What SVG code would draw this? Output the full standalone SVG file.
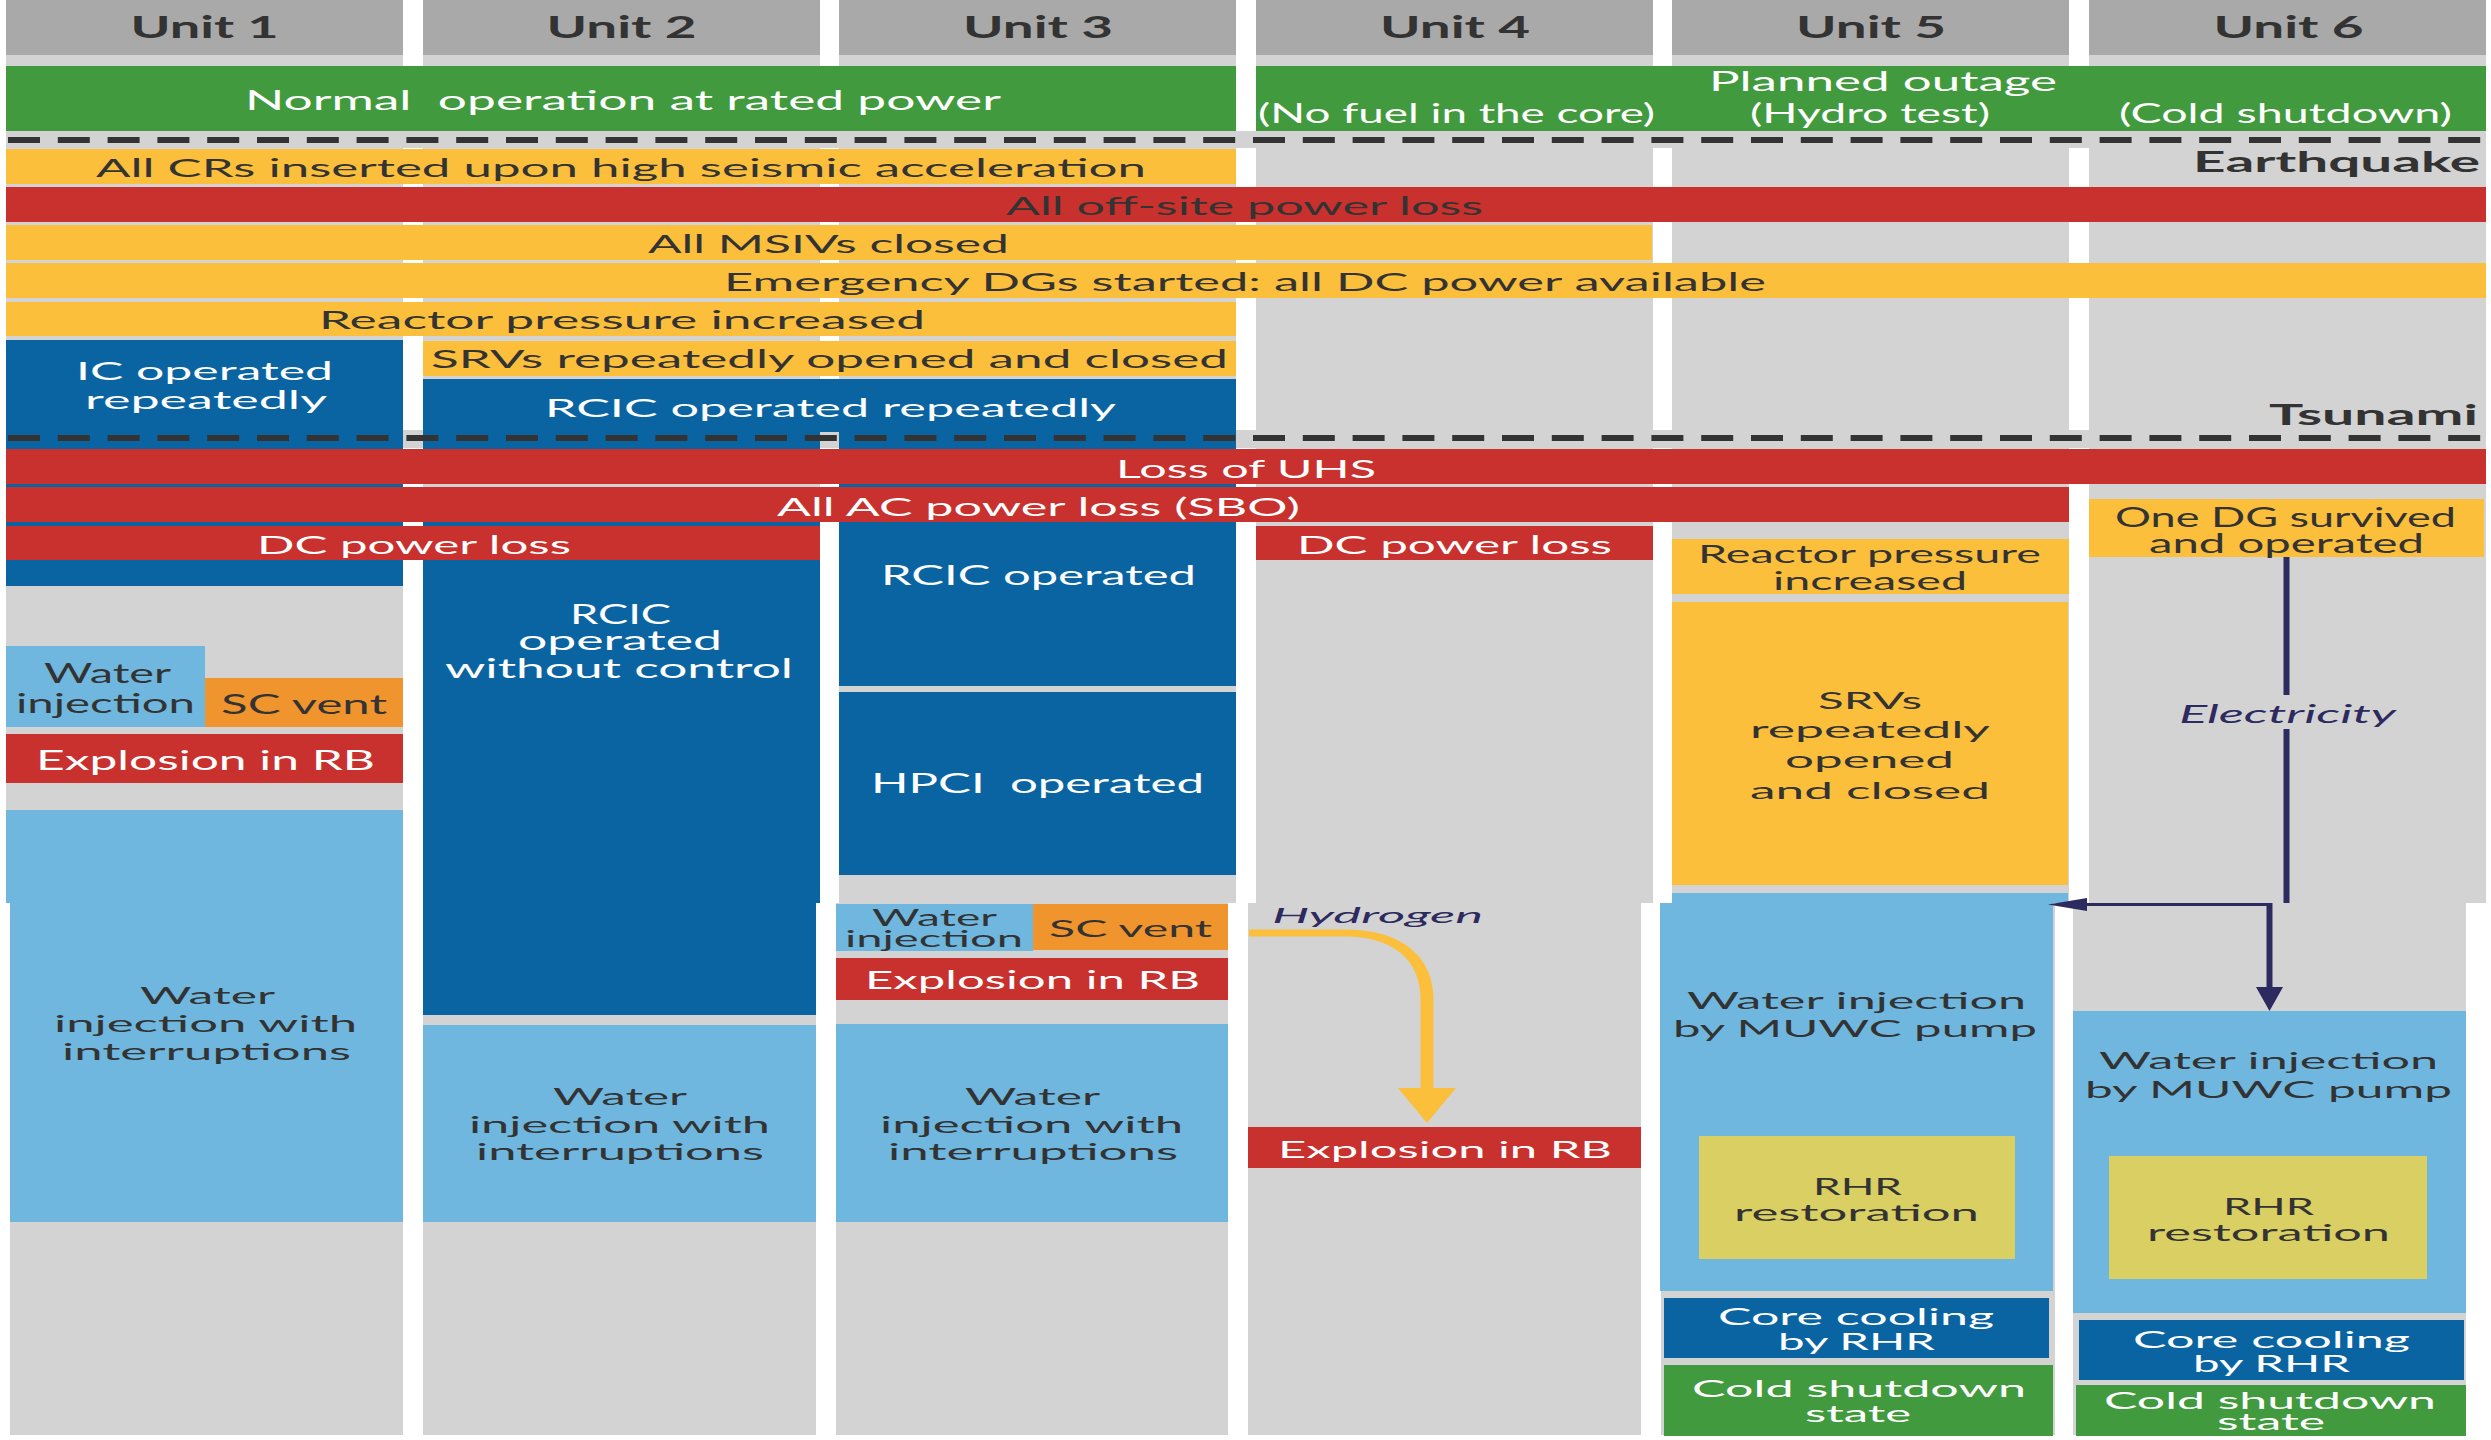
<svg xmlns="http://www.w3.org/2000/svg" width="2491" height="1440" viewBox="0 0 2491 1440">
<style>
  .hd{fill:#a9a9a9}
  .bg{fill:#d3d3d3}
  .gr{fill:#429a3e}
  .ye{fill:#fbbf3c}
  .rd{fill:#c8312d}
  .bl{fill:#0b64a2}
  .lb{fill:#6fb7de}
  .or{fill:#f0942e}
  .ol{fill:#dacf63}
  text{font-family:Lato,'Open Sans','Liberation Sans',sans-serif;text-anchor:middle}
  .w{fill:#ffffff}
  .d{fill:#333333}
  .n{fill:#2c2a5e;font-style:italic}
  .b{font-weight:bold}
  .s31{font-size:31px}.s28{font-size:28px}.s27{font-size:27px}.s26{font-size:26px}
  .s25{font-size:25px}.s24{font-size:24px}.s23{font-size:23px}.s22{font-size:22px}
  .dash{stroke:#333333;stroke-width:6;stroke-dasharray:32 17.8;fill:none}
  .nav{stroke:#2c2a5e;fill:none}
</style>
<defs>
  <marker id="navyHead" markerWidth="1" markerHeight="1"/>
</defs>
<rect width="2491" height="1440" fill="#ffffff"/>

<!-- column backgrounds: upper half and the slightly shifted lower half -->
<g id="columns">
  <rect class="bg" x="6" y="0" width="397" height="903"/>
  <rect class="bg" x="423" y="0" width="397" height="903"/>
  <rect class="bg" x="839" y="0" width="397" height="903"/>
  <rect class="bg" x="1256" y="0" width="397" height="903"/>
  <rect class="bg" x="1672" y="0" width="397" height="903"/>
  <rect class="bg" x="2089" y="0" width="397" height="903"/>
  <rect class="bg" x="10" y="903" width="393" height="532"/>
  <rect class="bg" x="423" y="903" width="393" height="532"/>
  <rect class="bg" x="836" y="903" width="392" height="532"/>
  <rect class="bg" x="1248" y="903" width="393" height="532"/>
  <rect class="bg" x="1661" y="903" width="394" height="532"/>
  <rect class="bg" x="2073" y="903" width="393" height="532"/>
  <rect class="bg" x="6" y="131" width="2480" height="17"/>
  <rect class="bg" x="6" y="430" width="2480" height="18"/>
</g>

<!-- unit headers -->
<g id="unit1-header"><rect class="hd" x="6" y="0" width="397" height="55"/><text class="d b s31" x="204.5" y="38" textLength="148" lengthAdjust="spacingAndGlyphs">Unit 1</text></g>
<g id="unit2-header"><rect class="hd" x="423" y="0" width="397" height="55"/><text class="d b s31" x="621.5" y="38" textLength="150" lengthAdjust="spacingAndGlyphs">Unit 2</text></g>
<g id="unit3-header"><rect class="hd" x="839" y="0" width="397" height="55"/><text class="d b s31" x="1038" y="38" textLength="150" lengthAdjust="spacingAndGlyphs">Unit 3</text></g>
<g id="unit4-header"><rect class="hd" x="1256" y="0" width="397" height="55"/><text class="d b s31" x="1455" y="38" textLength="150" lengthAdjust="spacingAndGlyphs">Unit 4</text></g>
<g id="unit5-header"><rect class="hd" x="1672" y="0" width="397" height="55"/><text class="d b s31" x="1871" y="38" textLength="150" lengthAdjust="spacingAndGlyphs">Unit 5</text></g>
<g id="unit6-header"><rect class="hd" x="2089" y="0" width="397" height="55"/><text class="d b s31" x="2288.5" y="38" textLength="150" lengthAdjust="spacingAndGlyphs">Unit 6</text></g>

<!-- initial state -->
<g id="normal-operation"><rect class="gr" x="6" y="66" width="1230" height="65"/><text class="w s27" x="623" y="110" textLength="756" lengthAdjust="spacingAndGlyphs" xml:space="preserve">Normal  operation at rated power</text></g>
<g id="planned-outage"><rect class="gr" x="1256" y="66" width="1230" height="65"/>
  <text class="w s26" x="1883" y="91" textLength="348" lengthAdjust="spacingAndGlyphs">Planned outage</text>
  <text class="w s26" x="1456.5" y="123" textLength="397" lengthAdjust="spacingAndGlyphs">(No fuel in the core)</text>
  <text class="w s26" x="1870" y="123" textLength="240" lengthAdjust="spacingAndGlyphs">(Hydro test)</text>
  <text class="w s26" x="2285.5" y="123" textLength="333" lengthAdjust="spacingAndGlyphs">(Cold shutdown)</text>
</g>

<!-- earthquake phase -->
<g id="crs-inserted"><rect class="ye" x="6" y="149" width="1230" height="35"/><text class="d s25" x="621" y="177" textLength="1050" lengthAdjust="spacingAndGlyphs">All CRs inserted upon high seismic acceleration</text></g>
<g id="offsite-power-loss"><rect class="rd" x="6" y="187" width="2480" height="35"/><text class="d s25" x="1244.5" y="215" textLength="477" lengthAdjust="spacingAndGlyphs">All off-site power loss</text></g>
<g id="msivs-closed"><rect class="ye" x="6" y="225" width="1646" height="35"/><text class="d s25" x="828.5" y="253" textLength="361" lengthAdjust="spacingAndGlyphs">All MSIVs closed</text></g>
<g id="dgs-started"><rect class="ye" x="6" y="263" width="2480" height="35"/><text class="d s25" x="1245" y="291" textLength="1042" lengthAdjust="spacingAndGlyphs">Emergency DGs started: all DC power available</text></g>
<g id="pressure-increased"><rect class="ye" x="6" y="302" width="1230" height="34"/><text class="d s25" x="622" y="329" textLength="606" lengthAdjust="spacingAndGlyphs">Reactor pressure increased</text></g>
<g id="ic-operated"><rect class="bl" x="6" y="340" width="397" height="246"/>
  <text class="w s25" x="204.5" y="380" textLength="257" lengthAdjust="spacingAndGlyphs">IC operated</text>
  <text class="w s25" x="206" y="409" textLength="242" lengthAdjust="spacingAndGlyphs">repeatedly</text>
</g>
<g id="srvs-cycled"><rect class="ye" x="423" y="341" width="813" height="35"/><text class="d s25" x="829.5" y="368" textLength="797" lengthAdjust="spacingAndGlyphs">SRVs repeatedly opened and closed</text></g>
<g id="rcic-repeated"><rect class="bl" x="423" y="379" width="813" height="53"/>
  <rect class="bl" x="423" y="432" width="397" height="20"/>
  <rect class="bl" x="839" y="432" width="397" height="20"/>
  <text class="w s25" x="830.5" y="417" textLength="571" lengthAdjust="spacingAndGlyphs">RCIC operated repeatedly</text>
</g>
<g id="label-earthquake"><text class="d b s28" x="2336.5" y="172" textLength="287" lengthAdjust="spacingAndGlyphs">Earthquake</text></g>
<g id="label-tsunami"><text class="d b s28" x="2373.5" y="425" textLength="209" lengthAdjust="spacingAndGlyphs">Tsunami</text></g>

<!-- unit 2 and unit 3 steam-driven cooling after the tsunami -->
<g id="u2-rcic-uncontrolled"><rect class="bl" x="423" y="487" width="397" height="416"/><rect class="bl" x="423" y="903" width="393" height="112"/>
  <text class="w s26" x="620.5" y="624" textLength="101" lengthAdjust="spacingAndGlyphs">RCIC</text>
  <text class="w s26" x="620" y="650" textLength="204" lengthAdjust="spacingAndGlyphs">operated</text>
  <text class="w s26" x="619" y="678" textLength="348" lengthAdjust="spacingAndGlyphs">without control</text>
</g>
<g id="u3-rcic"><rect class="bl" x="839" y="452" width="397" height="234"/>
  <text class="w s26" x="1038.5" y="585" textLength="315" lengthAdjust="spacingAndGlyphs">RCIC operated</text>
</g>

<!-- tsunami phase -->
<g id="uhs-loss"><rect class="rd" x="6" y="449" width="2480" height="35"/><text class="w s25" x="1246" y="478" textLength="260" lengthAdjust="spacingAndGlyphs">Loss of UHS</text></g>
<g id="sbo"><rect class="rd" x="6" y="487" width="2063" height="35"/><text class="w s25" x="1038.5" y="516" textLength="523" lengthAdjust="spacingAndGlyphs">All AC power loss (SBO)</text></g>
<g id="dc-loss-u12"><rect class="rd" x="6" y="526" width="814" height="34"/><text class="w s25" x="414" y="554" textLength="314" lengthAdjust="spacingAndGlyphs">DC power loss</text></g>
<g id="dc-loss-u4"><rect class="rd" x="1256" y="526" width="397" height="34"/><text class="w s25" x="1454.5" y="554" textLength="315" lengthAdjust="spacingAndGlyphs">DC power loss</text></g>

<!-- unit 1 -->
<g id="u1-water-injection"><rect class="lb" x="6" y="646" width="199" height="81"/>
  <text class="d s26" x="107.5" y="683" textLength="127" lengthAdjust="spacingAndGlyphs">Water</text>
  <text class="d s26" x="105.5" y="713" textLength="179" lengthAdjust="spacingAndGlyphs">injection</text>
</g>
<g id="u1-sc-vent"><rect class="or" x="205" y="678" width="198" height="49"/><text class="d s26" x="304" y="714" textLength="166" lengthAdjust="spacingAndGlyphs">SC vent</text></g>
<g id="u1-explosion"><rect class="rd" x="6" y="734" width="397" height="49"/><text class="w s26" x="205.5" y="770" textLength="339" lengthAdjust="spacingAndGlyphs">Explosion in RB</text></g>
<g id="u1-interrupted-injection"><rect class="lb" x="6" y="810" width="397" height="93"/><rect class="lb" x="10" y="903" width="393" height="319"/>
  <text class="d s23" x="207.5" y="1004" textLength="135" lengthAdjust="spacingAndGlyphs">Water</text>
  <text class="d s23" x="205.5" y="1032" textLength="303" lengthAdjust="spacingAndGlyphs">injection with</text>
  <text class="d s23" x="206.5" y="1060" textLength="289" lengthAdjust="spacingAndGlyphs">interruptions</text>
</g>

<!-- unit 2 -->
<g id="u2-interrupted-injection"><rect class="lb" x="423" y="1025" width="393" height="197"/>
  <text class="d s23" x="620" y="1105" textLength="134" lengthAdjust="spacingAndGlyphs">Water</text>
  <text class="d s23" x="619.5" y="1133" textLength="301" lengthAdjust="spacingAndGlyphs">injection with</text>
  <text class="d s23" x="620" y="1160" textLength="288" lengthAdjust="spacingAndGlyphs">interruptions</text>
</g>

<!-- unit 3 -->
<g id="u3-hpci"><rect class="bl" x="839" y="692" width="397" height="183"/><text class="w s26" x="1037.5" y="793" textLength="333" lengthAdjust="spacingAndGlyphs" xml:space="preserve">HPCI  operated</text></g>
<g id="u3-water-injection"><rect class="lb" x="836" y="904" width="197" height="47"/>
  <text class="d s23" x="934.5" y="926" textLength="125" lengthAdjust="spacingAndGlyphs">Water</text>
  <text class="d s23" x="934" y="947" textLength="178" lengthAdjust="spacingAndGlyphs">injection</text>
</g>
<g id="u3-sc-vent"><rect class="or" x="1033" y="904" width="195" height="46"/><text class="d s23" x="1130.5" y="937" textLength="163" lengthAdjust="spacingAndGlyphs">SC vent</text></g>
<g id="u3-explosion"><rect class="rd" x="836" y="958" width="392" height="42"/><text class="w s25" x="1032.5" y="989" textLength="335" lengthAdjust="spacingAndGlyphs">Explosion in RB</text></g>
<g id="u3-interrupted-injection"><rect class="lb" x="836" y="1024" width="392" height="198"/>
  <text class="d s23" x="1032.5" y="1105" textLength="135" lengthAdjust="spacingAndGlyphs">Water</text>
  <text class="d s23" x="1031.5" y="1133" textLength="303" lengthAdjust="spacingAndGlyphs">injection with</text>
  <text class="d s23" x="1033" y="1160" textLength="290" lengthAdjust="spacingAndGlyphs">interruptions</text>
</g>

<!-- unit 4 -->
<g id="u4-explosion"><rect class="rd" x="1248" y="1127" width="393" height="41"/><text class="w s24" x="1445" y="1158" textLength="334" lengthAdjust="spacingAndGlyphs">Explosion in RB</text></g>

<!-- unit 5 -->
<g id="u5-pressure"><rect class="ye" x="1672" y="539" width="397" height="55"/>
  <text class="d s25" x="1869.5" y="563" textLength="343" lengthAdjust="spacingAndGlyphs">Reactor pressure</text>
  <text class="d s25" x="1870" y="590" textLength="194" lengthAdjust="spacingAndGlyphs">increased</text>
</g>
<g id="u5-srvs"><rect class="ye" x="1672" y="602" width="396" height="283"/>
  <text class="d s24" x="1870" y="709" textLength="104" lengthAdjust="spacingAndGlyphs">SRVs</text>
  <text class="d s24" x="1870" y="738" textLength="240" lengthAdjust="spacingAndGlyphs">repeatedly</text>
  <text class="d s24" x="1869.5" y="768" textLength="169" lengthAdjust="spacingAndGlyphs">opened</text>
  <text class="d s24" x="1870" y="799" textLength="240" lengthAdjust="spacingAndGlyphs">and closed</text>
</g>
<g id="u5-muwc"><rect class="lb" x="1672" y="893" width="396" height="10"/><rect class="lb" x="1660" y="903" width="393" height="388"/>
  <text class="d s23" x="1856.5" y="1009" textLength="339" lengthAdjust="spacingAndGlyphs">Water injection</text>
  <text class="d s23" x="1855" y="1037" textLength="364" lengthAdjust="spacingAndGlyphs">by MUWC pump</text>
</g>
<g id="u5-rhr-restoration"><rect class="ol" x="1699" y="1136" width="316" height="123"/>
  <text class="d s23" x="1857.5" y="1195" textLength="89" lengthAdjust="spacingAndGlyphs">RHR</text>
  <text class="d s23" x="1856.5" y="1221" textLength="245" lengthAdjust="spacingAndGlyphs">restoration</text>
</g>
<g id="u5-core-cooling"><rect class="bl" x="1664" y="1298" width="385" height="60"/>
  <text class="w s23" x="1856" y="1325" textLength="276" lengthAdjust="spacingAndGlyphs">Core cooling</text>
  <text class="w s23" x="1856.5" y="1350" textLength="157" lengthAdjust="spacingAndGlyphs">by RHR</text>
</g>
<g id="u5-cold-shutdown"><rect class="gr" x="1664" y="1365" width="389" height="71"/>
  <text class="w s23" x="1859" y="1397" textLength="334" lengthAdjust="spacingAndGlyphs">Cold shutdown</text>
  <text class="w s23" x="1858" y="1422" textLength="106" lengthAdjust="spacingAndGlyphs">state</text>
</g>

<!-- unit 6 -->
<g id="u6-dg"><rect class="ye" x="2089" y="499" width="395" height="58"/>
  <text class="d s26" x="2285.5" y="527" textLength="341" lengthAdjust="spacingAndGlyphs">One DG survived</text>
  <text class="d s26" x="2286.5" y="553" textLength="275" lengthAdjust="spacingAndGlyphs">and operated</text>
</g>
<g id="u6-muwc"><rect class="lb" x="2073" y="1011" width="393" height="302"/>
  <text class="d s23" x="2268.5" y="1069" textLength="339" lengthAdjust="spacingAndGlyphs">Water injection</text>
  <text class="d s23" x="2268.5" y="1098" textLength="367" lengthAdjust="spacingAndGlyphs">by MUWC pump</text>
</g>
<g id="u6-rhr-restoration"><rect class="ol" x="2109" y="1156" width="318" height="123"/>
  <text class="d s23" x="2268.5" y="1215" textLength="91" lengthAdjust="spacingAndGlyphs">RHR</text>
  <text class="d s23" x="2268.5" y="1241" textLength="243" lengthAdjust="spacingAndGlyphs">restoration</text>
</g>
<g id="u6-core-cooling"><rect class="bl" x="2079" y="1320" width="385" height="60"/>
  <text class="w s23" x="2271.5" y="1348" textLength="277" lengthAdjust="spacingAndGlyphs">Core cooling</text>
  <text class="w s23" x="2271.5" y="1372" textLength="157" lengthAdjust="spacingAndGlyphs">by RHR</text>
</g>
<g id="u6-cold-shutdown"><rect class="gr" x="2076" y="1385" width="390" height="51"/>
  <text class="w s23" x="2270" y="1409" textLength="332" lengthAdjust="spacingAndGlyphs">Cold shutdown</text>
  <text class="w s23" x="2271" y="1430" textLength="108" lengthAdjust="spacingAndGlyphs">state</text>
</g>

<!-- event boundaries -->
<g id="event-lines">
  <line class="dash" x1="8" y1="140" x2="2486" y2="140"/>
  <line class="dash" x1="8" y1="438" x2="2486" y2="438"/>
</g>

<!-- connectors: hydrogen flow and electricity supply -->
<g id="connectors">
  <path d="M -96.2 933 H -44.9 C -14.6 933 0 960 0 1000 V 1090" transform="translate(1427 0) scale(1.85 1)" fill="none" stroke="#fbbf3c" stroke-width="7"/>
  <polygon points="1398,1088 1456,1088 1427,1123" fill="#fbbf3c"/>
  <line class="nav" x1="2286.5" y1="557" x2="2286.5" y2="695" stroke-width="6"/>
  <line class="nav" x1="2286.5" y1="729" x2="2286.5" y2="903" stroke-width="6"/>
  <line class="nav" x1="2269.5" y1="903" x2="2269.5" y2="990" stroke-width="6"/>
  <line class="nav" x1="2272" y1="904.5" x2="2084" y2="904.5" stroke-width="3"/>
  <polygon points="2256,987 2283,987 2269.5,1011" fill="#2c2a5e"/>
  <polygon points="2087,898 2087,911 2048,904.5" fill="#2c2a5e"/>
</g>
<g id="flow-labels">
  <text class="n s22" x="1377.5" y="923" textLength="211" lengthAdjust="spacingAndGlyphs">Hydrogen</text>
  <text class="n s26" x="2287.5" y="723" textLength="217" lengthAdjust="spacingAndGlyphs">Electricity</text>
</g>
</svg>
